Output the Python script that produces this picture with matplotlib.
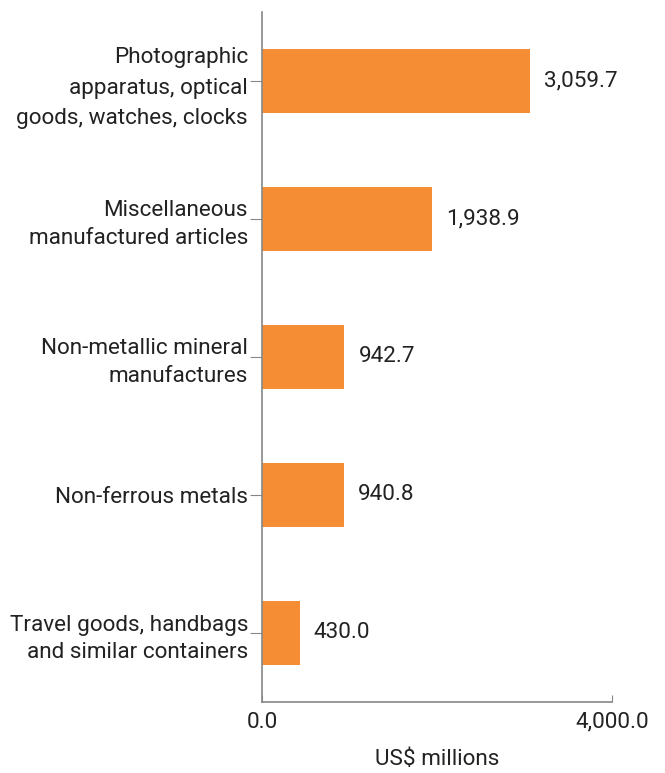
import matplotlib.pyplot as plt

plt.rcParams['font.family'] = ['Roboto', 'DejaVu Sans']

categories = ['Photographic\napparatus, optical\ngoods, watches, clocks',
              'Miscellaneous\nmanufactured articles',
              'Non-metallic mineral\nmanufactures',
              'Non-ferrous metals',
              'Travel goods, handbags\nand similar containers']
values = [3059.7, 1938.9, 942.7, 940.8, 430.0]
xticks = [0, 4000]
xticklabels = ['0.0', '4,000.0']

bar_color = '#F58D35'
text_color = '#222222'
axis_color = '#888888'
fs = 16.2

fig = plt.figure(figsize=(6.65, 7.73), dpi=100)
ax = fig.add_axes([262/665, 1-702/773, 350/665, 690/773])

pos = range(len(categories))
bars = ax.barh(pos, values, height=0.464, color=bar_color)

ax.set_ylim(len(categories) - 0.5, -0.5)
ax.set_xlim(0, 4000)

ax.set_yticks(list(pos))
ax.set_yticklabels(categories, fontsize=fs, color=text_color, linespacing=1.4)
ax.get_yticklabels()[0].set_linespacing(1.6)
ax.set_xticks(xticks)
ax.set_xticklabels(xticklabels, fontsize=fs, color=text_color)
ax.tick_params(axis='y', direction='out', length=9, color=axis_color, pad=1)
ax.tick_params(axis='x', direction='in', length=5, color=axis_color, pad=7)

for s in ['top', 'right']:
    ax.spines[s].set_visible(False)
for s in ['left', 'bottom']:
    ax.spines[s].set_color(axis_color)
    ax.spines[s].set_linewidth(1.2)

for bar, v in zip(bars, values):
    ax.text(bar.get_width() + 160, bar.get_y() + bar.get_height()/2, f'{v:,.1f}',
            va='center', ha='left', fontsize=fs, color=text_color)

ax.set_xlabel('US$ millions', fontsize=fs, color=text_color, labelpad=12)

fig.savefig('out.png', dpi=100)
